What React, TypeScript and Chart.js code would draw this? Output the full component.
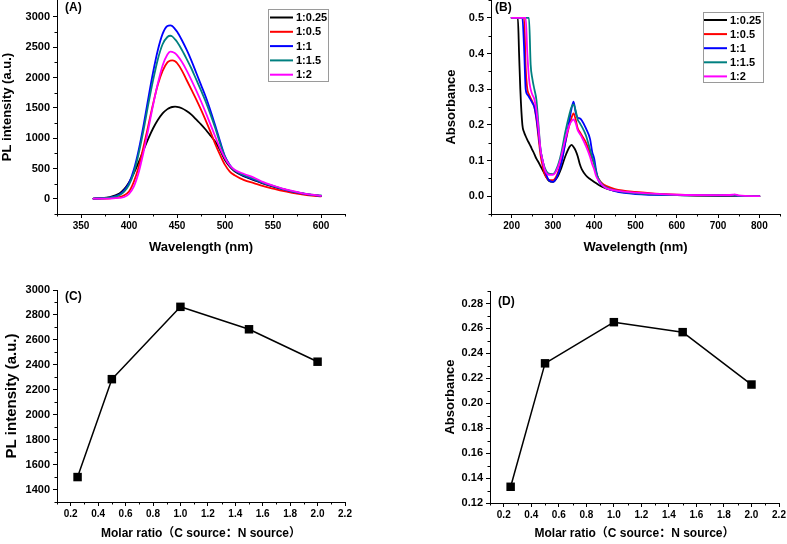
import React, { useEffect, useRef } from "react";
import { Chart, registerables } from "chart.js";

Chart.register(...registerables);

const FONT = "'Liberation Sans', Arial, 'Noto Sans CJK SC', sans-serif";

// ---------- series meta ----------
const SERIES_LABELS = ["1:0.25", "1:0.5", "1:1", "1:1.5", "1:2"];
const SERIES_COLORS = ["#000000", "#ff0000", "#0000ff", "#008080", "#ff00ff"];

// ---------- (A) PL spectra ----------
const WL_A = [363, 370, 380, 390, 395, 400, 405, 410, 415, 420, 425, 430, 435, 440, 443, 445, 448, 450, 455, 460, 465, 470, 475, 480, 485, 490, 495, 500, 505, 510, 520, 530, 540, 550, 560, 570, 580, 590, 600];
const PL_025 = [5, 10, 30, 90, 160, 270, 420, 600, 800, 990, 1160, 1300, 1410, 1480, 1505, 1515, 1520, 1518, 1495, 1450, 1390, 1310, 1230, 1140, 1040, 940, 800, 640, 530, 455, 370, 310, 250, 200, 160, 120, 90, 65, 50];
const PL_05 = [3, 5, 10, 30, 60, 120, 280, 520, 850, 1200, 1560, 1880, 2110, 2250, 2280, 2285, 2270, 2240, 2120, 1960, 1800, 1640, 1470, 1290, 1100, 900, 720, 560, 450, 390, 310, 260, 210, 170, 130, 100, 75, 55, 40];
const PL_1 = [5, 8, 20, 70, 140, 260, 480, 800, 1200, 1650, 2080, 2450, 2720, 2850, 2860, 2850, 2800, 2760, 2620, 2460, 2280, 2080, 1880, 1680, 1450, 1200, 940, 700, 560, 470, 380, 320, 260, 210, 160, 120, 90, 65, 50];
const PL_15 = [5, 8, 18, 60, 120, 230, 430, 740, 1120, 1550, 1950, 2300, 2550, 2670, 2690, 2680, 2630, 2590, 2460, 2310, 2150, 1970, 1790, 1600, 1390, 1160, 910, 690, 550, 470, 390, 330, 265, 215, 165, 125, 95, 70, 55];
const PL_2 = [2, 3, 5, 15, 30, 80, 200, 430, 760, 1140, 1540, 1900, 2200, 2380, 2430, 2425, 2400, 2370, 2260, 2120, 1960, 1790, 1610, 1420, 1220, 1020, 830, 670, 550, 480, 410, 350, 275, 220, 170, 130, 95, 70, 50];

// ---------- (B) absorbance spectra ----------
const WL_B = [200, 215, 218, 221, 226, 230, 234, 238, 242, 246, 250, 255, 260, 265, 270, 275, 280, 290, 300, 310, 320, 330, 340, 345, 350, 355, 360, 365, 370, 380, 390, 395, 400, 405, 410, 420, 430, 450, 500, 600, 700, 735, 740, 750, 800];
const AB_025 = [0.5, 0.5, 0.4, 0.3, 0.2, 0.18, 0.168, 0.158, 0.149, 0.14, 0.13, 0.118, 0.105, 0.095, 0.084, 0.073, 0.062, 0.043, 0.04, 0.052, 0.078, 0.112, 0.138, 0.144, 0.138, 0.128, 0.112, 0.09, 0.075, 0.058, 0.048, 0.044, 0.04, 0.036, 0.032, 0.026, 0.021, 0.015, 0.009, 0.003, 0.001, 0.001, 0.001, 0.001, 0.0];
const AB_05 = [0.5, 0.5, 0.5, 0.5, 0.5, 0.5, 0.36, 0.3, 0.285, 0.275, 0.265, 0.25, 0.215, 0.165, 0.115, 0.085, 0.062, 0.046, 0.045, 0.06, 0.095, 0.15, 0.2, 0.22, 0.232, 0.215, 0.19, 0.18, 0.17, 0.15, 0.12, 0.105, 0.09, 0.065, 0.05, 0.035, 0.028, 0.02, 0.012, 0.004, 0.002, 0.002, 0.002, 0.001, 0.0];
const AB_1 = [0.5, 0.5, 0.5, 0.5, 0.5, 0.42, 0.3, 0.285, 0.278, 0.27, 0.262, 0.25, 0.22, 0.175, 0.13, 0.1, 0.075, 0.045, 0.04, 0.055, 0.09, 0.15, 0.215, 0.245, 0.265, 0.235, 0.22, 0.218, 0.212, 0.19, 0.16, 0.125, 0.105, 0.07, 0.045, 0.03, 0.022, 0.014, 0.006, 0.003, 0.002, 0.002, 0.002, 0.001, 0.0];
const AB_15 = [0.5, 0.5, 0.5, 0.5, 0.5, 0.5, 0.5, 0.5, 0.5, 0.37, 0.33, 0.3, 0.27, 0.2, 0.13, 0.1, 0.08, 0.063, 0.062, 0.08, 0.12, 0.18, 0.23, 0.25, 0.257, 0.24, 0.215, 0.205, 0.195, 0.17, 0.13, 0.11, 0.09, 0.065, 0.05, 0.032, 0.024, 0.016, 0.008, 0.003, 0.002, 0.002, 0.002, 0.001, 0.0];
const AB_2 = [0.5, 0.5, 0.5, 0.5, 0.5, 0.5, 0.5, 0.4, 0.33, 0.3, 0.285, 0.272, 0.24, 0.19, 0.13, 0.1, 0.075, 0.06, 0.06, 0.075, 0.11, 0.16, 0.2, 0.21, 0.215, 0.205, 0.185, 0.175, 0.165, 0.14, 0.11, 0.09, 0.075, 0.055, 0.045, 0.03, 0.022, 0.016, 0.01, 0.004, 0.003, 0.004, 0.005, 0.002, 0.0];

// ---------- (C), (D) ratio plots ----------
const RATIO = [0.25, 0.5, 1.0, 1.5, 2.0];
const PL_PEAK = [1500, 2285, 2865, 2685, 2425];
const ABS_PEAK = [0.133, 0.232, 0.265, 0.257, 0.215];

// ---------- ticks ----------
const A_X_TICKS = [350, 400, 450, 500, 550, 600];
const A_X_MINOR = [325, 375, 425, 475, 525, 575, 625];
const A_Y_TICKS = [0, 500, 1000, 1500, 2000, 2500, 3000];
const A_Y_MINOR = [-250, 250, 750, 1250, 1750, 2250, 2750];
const B_X_TICKS = [200, 300, 400, 500, 600, 700, 800];
const B_X_MINOR = [150, 250, 350, 450, 550, 650, 750, 850];
const B_Y_TICKS = [0, 0.1, 0.2, 0.3, 0.4, 0.5];
const B_Y_MINOR = [-0.05, 0.05, 0.15, 0.25, 0.35, 0.45, 0.55];
const R_X_TICKS = [0.2, 0.4, 0.6, 0.8, 1.0, 1.2, 1.4, 1.6, 1.8, 2.0, 2.2];
const R_X_MINOR = [0.1, 0.3, 0.5, 0.7, 0.9, 1.1, 1.3, 1.5, 1.7, 1.9, 2.1];
const C_Y_TICKS = [1400, 1600, 1800, 2000, 2200, 2400, 2600, 2800, 3000];
const C_Y_MINOR = [1300, 1500, 1700, 1900, 2100, 2300, 2500, 2700, 2900];
const D_Y_TICKS = [0.12, 0.14, 0.16, 0.18, 0.2, 0.22, 0.24, 0.26, 0.28];
const D_Y_MINOR = [0.13, 0.15, 0.17, 0.19, 0.21, 0.23, 0.25, 0.27, 0.29];

const X_TITLE_WL = "Wavelength (nm)";
const X_TITLE_RATIO = "Molar ratio（C source：N source）";
const Y_TITLE_PL = "PL intensity (a.u.)";
const Y_TITLE_ABS = "Absorbance";

const zip = (xs: number[], ys: number[]) => xs.map((x, i) => ({ x, y: ys[i] }));

const spectra = (wl: number[], sets: number[][]) =>
  sets.map((vals, i) => ({
    label: SERIES_LABELS[i],
    data: zip(wl, vals),
    borderColor: SERIES_COLORS[i],
    backgroundColor: SERIES_COLORS[i],
    borderWidth: 1.8,
    pointRadius: 0,
    showLine: true,
    fill: false,
    cubicInterpolationMode: "monotone" as const,
    order: sets.length - 1 - i,
  }));

const ratioSet = (ys: number[]) => [
  {
    label: "ratio",
    data: zip(RATIO, ys),
    borderColor: "#000",
    backgroundColor: "#000",
    borderWidth: 1.5,
    pointStyle: "rect" as const,
    pointRadius: 6,
    pointBorderWidth: 0,
    pointBackgroundColor: "#000",
    showLine: true,
    tension: 0,
  },
];

interface Panel {
  tag: string;
  tagPos: [number, number];
  page: { x: number; y: number; w: number; h: number };
  area: { l: number; r: number; t: number; b: number };
  xr: [number, number];
  yr: [number, number];
  xTicks: number[];
  xMinor: number[];
  yTicks: number[];
  yMinor: number[];
  xFmt: (v: number) => string;
  yFmt: (v: number) => string;
  xTitle: string;
  yTitle: string;
  xTitleSize: number;
  yTitleSize: number;
  xTitlePad: number;
  yTitlePad: number;
  datasets: any[];
  legend?: { x: number; y: number; w: number; h: number; y0: number; dy: number; l0: number; l1: number; tx: number };
}

const PANELS: Panel[] = [
  {
    tag: "(A)",
    tagPos: [65, 8],
    page: { x: 0, y: 0, w: 390, h: 270 },
    area: { l: 57, r: 345, t: 0, b: 214 },
    xr: [325, 625],
    yr: [-250, 3280],
    xTicks: A_X_TICKS,
    xMinor: A_X_MINOR,
    yTicks: A_Y_TICKS,
    yMinor: A_Y_MINOR,
    xFmt: (v) => String(v),
    yFmt: (v) => String(v),
    xTitle: X_TITLE_WL,
    yTitle: Y_TITLE_PL,
    xTitleSize: 13,
    yTitleSize: 13,
    xTitlePad: 15,
    yTitlePad: 0,
    datasets: spectra(WL_A, [PL_025, PL_05, PL_1, PL_15, PL_2]),
    legend: { x: 268, y: 9, w: 60, h: 72, y0: 17.5, dy: 14.3, l0: 270, l1: 293, tx: 296 },
  },
  {
    tag: "(B)",
    tagPos: [105, 8],
    page: { x: 390, y: 0, w: 397, h: 270 },
    area: { l: 101, r: 390, t: 0, b: 214 },
    xr: [150, 850],
    yr: [-0.05, 0.55],
    xTicks: B_X_TICKS,
    xMinor: B_X_MINOR,
    yTicks: B_Y_TICKS,
    yMinor: B_Y_MINOR,
    xFmt: (v) => String(v),
    yFmt: (v) => v.toFixed(1),
    xTitle: X_TITLE_WL,
    yTitle: Y_TITLE_ABS,
    xTitleSize: 13,
    yTitleSize: 13,
    xTitlePad: 15,
    yTitlePad: 54,
    datasets: spectra(WL_B, [AB_025, AB_05, AB_1, AB_15, AB_2]),
    legend: { x: 313, y: 12, w: 60, h: 70, y0: 20, dy: 14.1, l0: 314, l1: 337, tx: 340 },
  },
  {
    tag: "(C)",
    tagPos: [65, 27],
    page: { x: 0, y: 270, w: 390, h: 274 },
    area: { l: 57, r: 345, t: 20, b: 232 },
    xr: [0.1, 2.2],
    yr: [1300, 3000],
    xTicks: R_X_TICKS,
    xMinor: R_X_MINOR,
    yTicks: C_Y_TICKS,
    yMinor: C_Y_MINOR,
    xFmt: (v) => v.toFixed(1),
    yFmt: (v) => String(v),
    xTitle: X_TITLE_RATIO,
    yTitle: Y_TITLE_PL,
    xTitleSize: 12,
    yTitleSize: 15,
    xTitlePad: 3,
    yTitlePad: 3,
    datasets: ratioSet(PL_PEAK),
  },
  {
    tag: "(D)",
    tagPos: [108, 32],
    page: { x: 390, y: 270, w: 397, h: 274 },
    area: { l: 100, r: 389, t: 21, b: 233 },
    xr: [0.1, 2.2],
    yr: [0.12, 0.29],
    xTicks: R_X_TICKS,
    xMinor: R_X_MINOR,
    yTicks: D_Y_TICKS,
    yMinor: D_Y_MINOR,
    xFmt: (v) => v.toFixed(1),
    yFmt: (v) => v.toFixed(2),
    xTitle: X_TITLE_RATIO,
    yTitle: Y_TITLE_ABS,
    xTitleSize: 12,
    yTitleSize: 13,
    xTitlePad: 3,
    yTitlePad: 53,
    datasets: ratioSet(ABS_PEAK),
  },
];

const TICK_LEN = 4;
const MINOR_LEN = 2.5;

function makeChart(canvas: HTMLCanvasElement, p: Panel) {
  const W = p.page.w;
  const H = p.page.h;

  const overlay = {
    id: "overlay" + p.tag,
    afterDraw(chart: any) {
      const ctx = chart.ctx as CanvasRenderingContext2D;
      const xs = chart.scales.x;
      const ys = chart.scales.y;
      ctx.save();
      // minor ticks
      ctx.strokeStyle = "#000";
      ctx.lineWidth = 1;
      ctx.beginPath();
      for (const v of p.xMinor) {
        const px = Math.round(xs.getPixelForValue(v)) + 0.5;
        ctx.moveTo(px, xs.top);
        ctx.lineTo(px, xs.top + MINOR_LEN);
      }
      for (const v of p.yMinor) {
        const py = Math.round(ys.getPixelForValue(v)) + 0.5;
        ctx.moveTo(ys.right, py);
        ctx.lineTo(ys.right - MINOR_LEN, py);
      }
      ctx.stroke();
      // panel tag
      ctx.fillStyle = "#000";
      ctx.font = `bold 12px ${FONT}`;
      ctx.textBaseline = "middle";
      ctx.textAlign = "left";
      ctx.fillText(p.tag, p.tagPos[0], p.tagPos[1]);
      // legend
      const lg = p.legend;
      if (lg) {
        ctx.fillStyle = "#fff";
        ctx.fillRect(lg.x, lg.y, lg.w, lg.h);
        ctx.strokeStyle = "#9a9a9a";
        ctx.lineWidth = 1;
        ctx.strokeRect(lg.x + 0.5, lg.y + 0.5, lg.w, lg.h);
        chart.data.datasets.forEach((ds: any, i: number) => {
          const y = lg.y0 + i * lg.dy;
          ctx.strokeStyle = ds.borderColor;
          ctx.lineWidth = 2;
          ctx.beginPath();
          ctx.moveTo(lg.l0, y);
          ctx.lineTo(lg.l1, y);
          ctx.stroke();
          ctx.fillStyle = "#000";
          ctx.font = `bold 11px ${FONT}`;
          ctx.textBaseline = "middle";
          ctx.fillText(ds.label, lg.tx, y + 0.5);
        });
      }
      ctx.restore();
    },
  };

  const zeroPad = (s: any) => {
    s.paddingLeft = 0;
    s.paddingRight = 0;
    s.paddingTop = 0;
    s.paddingBottom = 0;
  };

  return new Chart(canvas, {
    type: "scatter",
    data: { datasets: p.datasets },
    options: {
      animation: false,
      responsive: false,
      maintainAspectRatio: false,
      devicePixelRatio: 1,
      layout: { padding: { left: 0, top: p.area.t, right: W - p.area.r, bottom: 0 } },
      plugins: { legend: { display: false }, tooltip: { enabled: false } },
      elements: { line: { borderCapStyle: "round", borderJoinStyle: "round" } },
      scales: {
        x: {
          type: "linear",
          min: p.xr[0],
          max: p.xr[1],
          afterBuildTicks: (s: any) => {
            s.ticks = p.xTicks.map((v) => ({ value: v }));
          },
          afterFit: (s: any) => {
            s.height = H - p.area.b;
            zeroPad(s);
          },
          grid: { display: true, drawOnChartArea: false, drawTicks: true, tickLength: TICK_LEN, color: "#000", lineWidth: 1 },
          border: { display: true, color: "#000", width: 1 },
          ticks: {
            autoSkip: false,
            maxRotation: 0,
            padding: 2,
            color: "#000",
            font: { family: FONT, size: 10, weight: "bold" },
            callback: (v: any) => p.xFmt(Number(v)),
          },
          title: {
            display: true,
            text: p.xTitle,
            color: "#000",
            font: { family: FONT, size: p.xTitleSize, weight: "bold" },
            padding: { top: 0, bottom: p.xTitlePad },
          },
        },
        y: {
          type: "linear",
          min: p.yr[0],
          max: p.yr[1],
          afterBuildTicks: (s: any) => {
            s.ticks = p.yTicks.map((v) => ({ value: v }));
          },
          afterFit: (s: any) => {
            s.width = p.area.l;
            zeroPad(s);
          },
          grid: { display: true, drawOnChartArea: false, drawTicks: true, tickLength: TICK_LEN, color: "#000", lineWidth: 1 },
          border: { display: true, color: "#000", width: 1 },
          ticks: {
            autoSkip: false,
            padding: 3,
            color: "#000",
            font: { family: FONT, size: 11, weight: "bold" },
            callback: (v: any) => p.yFmt(Number(v)),
          },
          title: {
            display: true,
            text: p.yTitle,
            color: "#000",
            font: { family: FONT, size: p.yTitleSize, weight: "bold" },
            padding: { top: p.yTitlePad, bottom: 0 },
          },
        },
      },
    } as any,
    plugins: [overlay],
  });
}

function PanelCanvas({ p }: { p: Panel }) {
  const ref = useRef<HTMLCanvasElement | null>(null);
  useEffect(() => {
    if (!ref.current) return;
    const chart = makeChart(ref.current, p);
    return () => chart.destroy();
  }, [p]);
  return (
    <canvas
      ref={ref}
      width={p.page.w}
      height={p.page.h}
      style={{ position: "absolute", left: p.page.x, top: p.page.y, width: p.page.w, height: p.page.h }}
    />
  );
}

export default function App() {
  return (
    <div style={{ position: "fixed", left: 0, top: 0, width: 787, height: 544, background: "#fff", overflow: "hidden" }}>
      {PANELS.map((p) => (
        <PanelCanvas key={p.tag} p={p} />
      ))}
    </div>
  );
}
